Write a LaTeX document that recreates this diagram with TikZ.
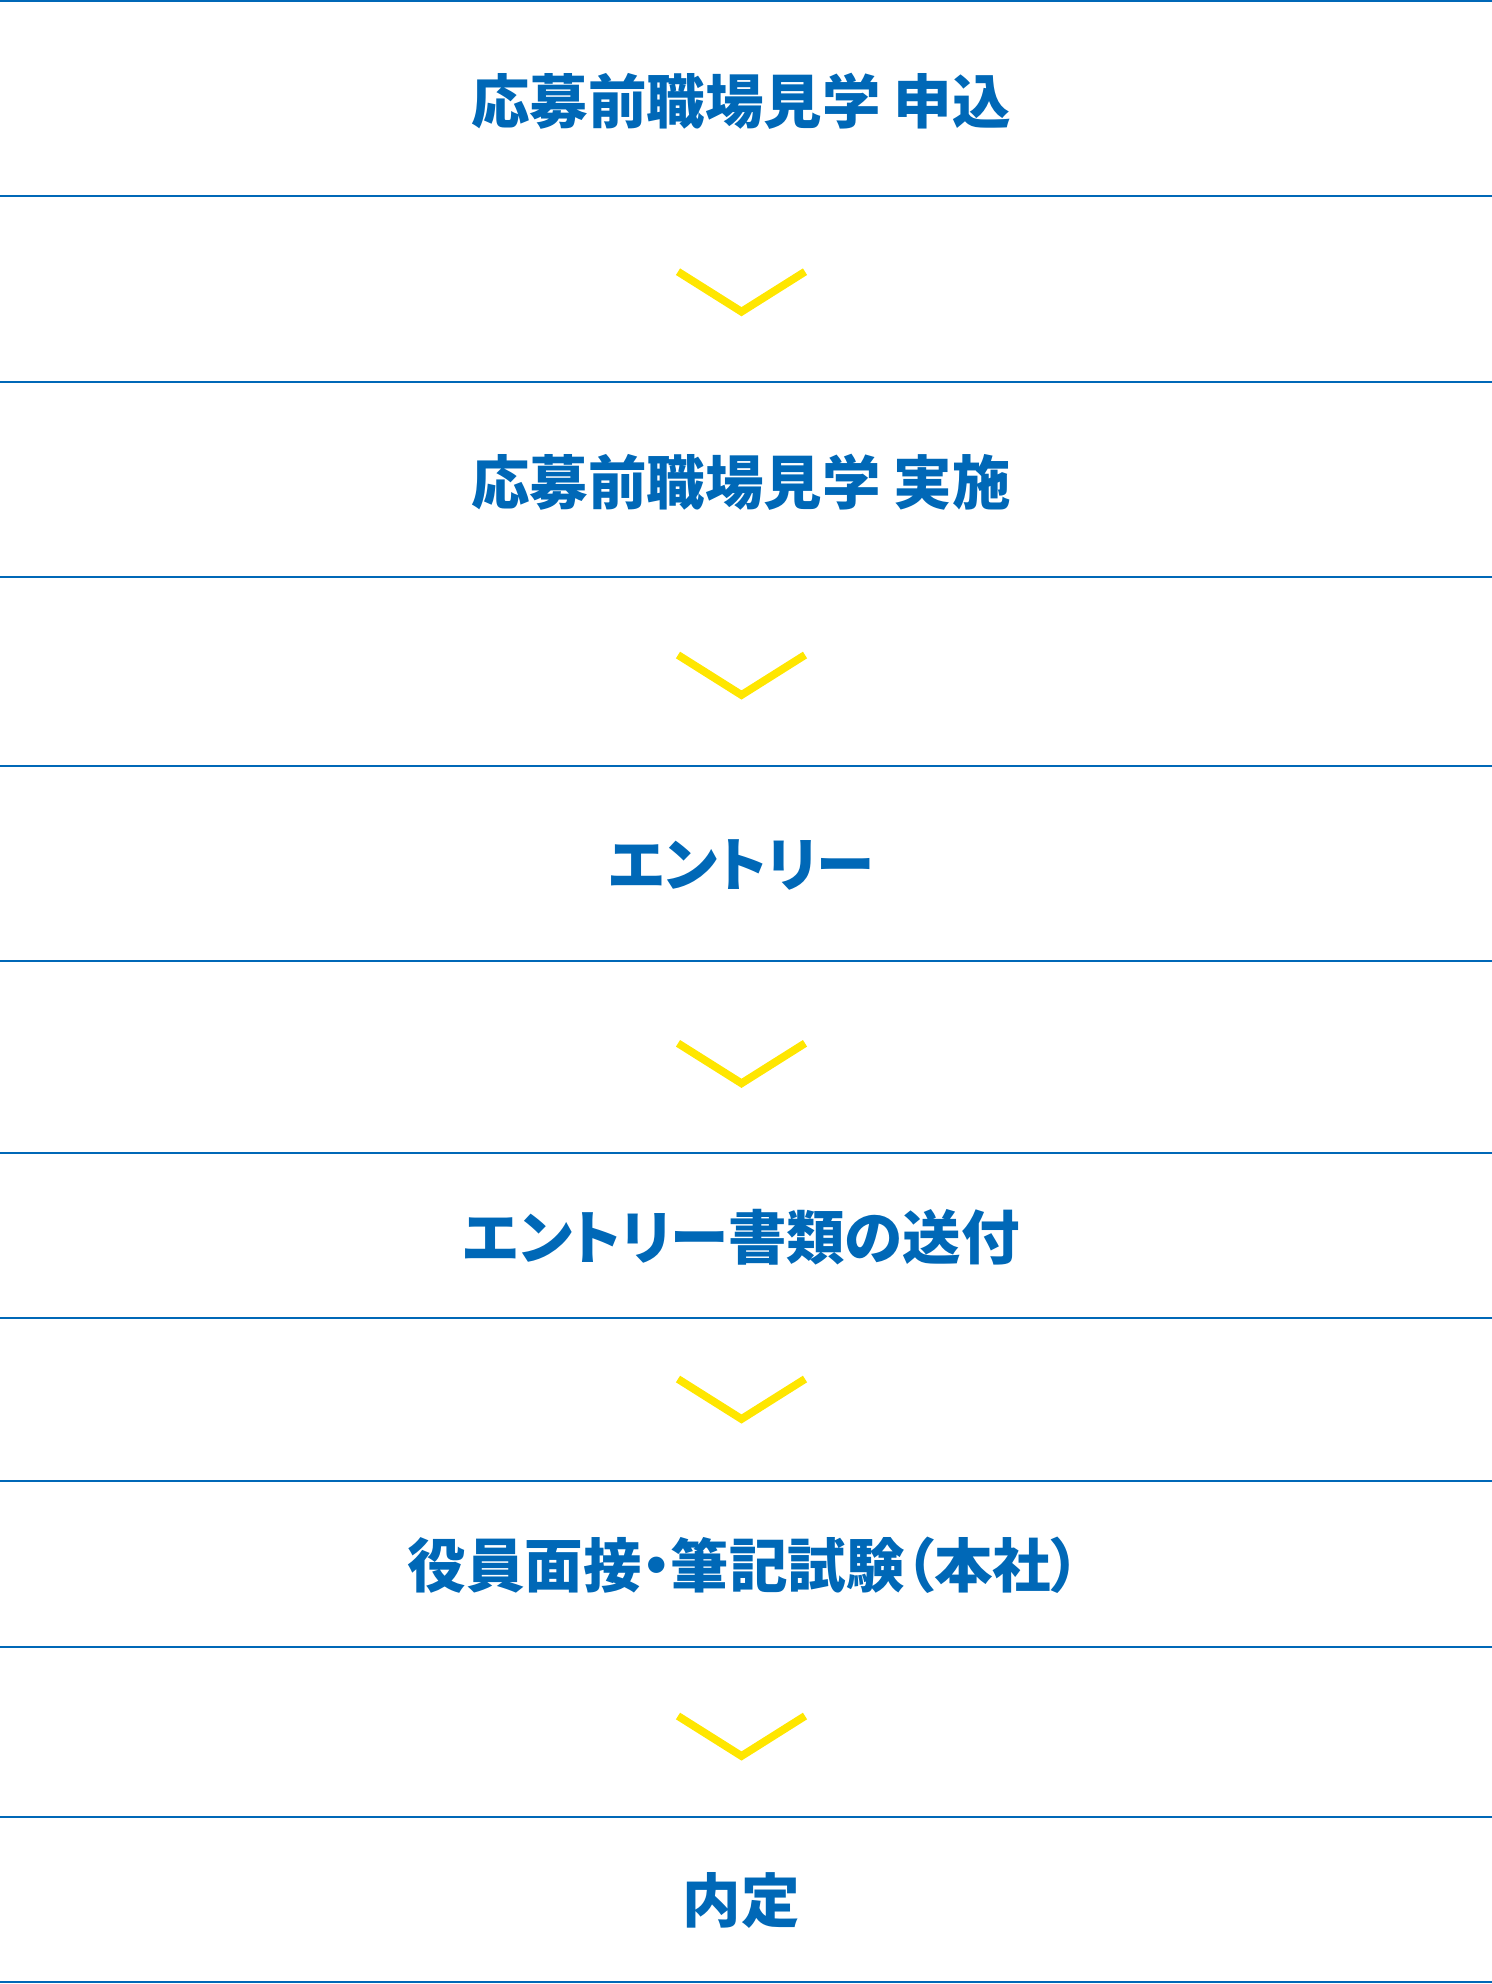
\documentclass[tikz,border=0pt]{standalone}
\usepackage{fontspec}
\newfontfamily\cjk{Noto Sans CJK JP}[RawFeature=+palt]
\definecolor{stepblue}{HTML}{0068B7}
\definecolor{chevyellow}{HTML}{FFE600}
\tikzset{
  sepline/.style={draw=stepblue, line width=1pt},
  steplabel/.style={text=stepblue, font=\cjk\bfseries\fontsize{29.25pt}{32pt}\selectfont, inner sep=0pt, anchor=center},
  chevron/.style={draw=chevyellow, line width=3.9pt, line join=miter, line cap=butt}
}
\begin{document}
\begin{tikzpicture}[x=0.5pt, y=-0.5pt]
\useasboundingbox (0,0) rectangle (1492,1984);
% separator lines
\foreach \yy/\nm in {1/l0,196/l1,382/l2,577/l3,766/l4,961/l5,1152.5/l6,1318/l7,1481/l8,1646.5/l9,1816.5/l10,1982/l11}{
  \coordinate (\nm a) at (0,\yy);
  \coordinate (\nm b) at (1492,\yy);
  \draw[sepline] (\nm a) -- (\nm b);
}
% step labels
\node[steplabel] (s1) at (741,101) {応募前職場見学 申込};
\node[steplabel] (s2) at (741,482) {応募前職場見学 実施};
\node[steplabel] (s3) at (741,865) {エントリー};
\node[steplabel] (s4) at (741,1237) {エントリー書類の送付};
\node[steplabel] (s5) at (744,1565) {役員面接・筆記試験（本社）};
\node[steplabel] (s6) at (741,1900) {内定};
% chevrons
\foreach \cy/\nm in {291.7/c1,675/c2,1063.3/c3,1399/c4,1736/c5}{
  \coordinate (\nm l) at (678,\cy-20);
  \coordinate (\nm v) at (741.5,\cy+20);
  \coordinate (\nm r) at (805,\cy-20);
  \draw[chevron] (\nm l) -- (\nm v) -- (\nm r);
}
\end{tikzpicture}
\end{document}
